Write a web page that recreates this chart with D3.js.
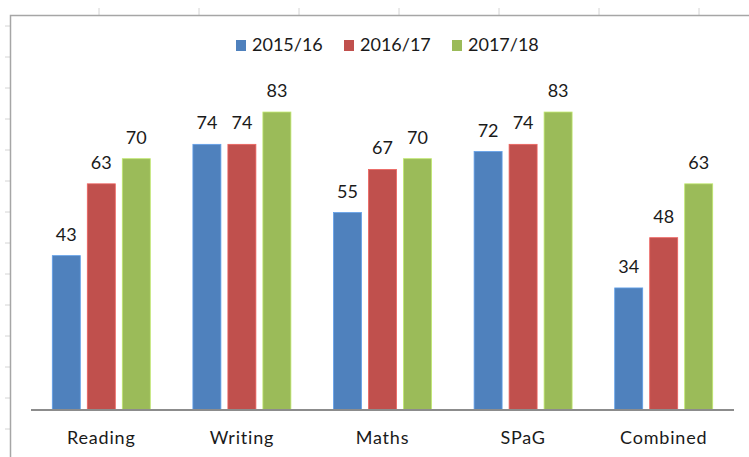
<!DOCTYPE html>
<html>
<head>
<meta charset="utf-8">
<script src="https://cdn.jsdelivr.net/npm/d3@7"></script>
<style>
  body { margin: 0; background: #fff; }
  svg { display: block; font-family: Lato, "Open Sans", sans-serif; }
</style>
</head>
<body>
<div id="chart"></div>
<script>
const categories = ["Reading", "Writing", "Maths", "SPaG", "Combined"]
const seriesNames = ["2015/16", "2016/17", "2017/18"]
const values2015 = [43, 74, 55, 72, 34]
const values2016 = [63, 74, 67, 74, 48]
const values2017 = [70, 83, 70, 83, 63]
const seriesColors = ["#4F81BD", "#C0504D", "#9BBB59"]

const seriesValues = [values2015, values2016, values2017]

const width = 749
const height = 457

const svg = d3.select("#chart")
  .append("svg")
  .attr("width", width)
  .attr("height", height)

// spreadsheet backdrop: column ticks along the top, row ticks down the left
const colTicks = d3.range(1, 8).map(i => 100 * i - 1)
svg.selectAll(".colTick")
  .data(colTicks)
  .enter()
  .append("line")
  .attr("x1", d => d).attr("x2", d => d)
  .attr("y1", 8).attr("y2", 15)
  .attr("stroke", "#d4d4d4")

const rowTicks = d3.range(0, 15).map(i => 26 + 31 * i)
svg.selectAll(".rowTick")
  .data(rowTicks)
  .enter()
  .append("line")
  .attr("x1", 5).attr("x2", 10)
  .attr("y1", d => d).attr("y2", d => d)
  .attr("stroke", "#d4d4d4")

// chart area border
svg.append("path")
  .attr("d", `M10.5,${height} V15.5 H${width}`)
  .attr("fill", "none")
  .attr("stroke", "#a6a6a6")
  .attr("stroke-width", 1.5)

// scales
const x0 = d3.scaleBand()
  .domain(categories)
  .range([31, 734])
  .paddingInner(0.303)
  .paddingOuter(0.1515)

const x1 = d3.scaleBand()
  .domain(seriesNames)
  .range([0, x0.bandwidth()])
  .paddingInner(0.2)

const y = d3.scaleLinear()
  .domain([0, 100])
  .range([410, 51])

// bars
const groups = svg.selectAll(".group")
  .data(categories)
  .enter()
  .append("g")
  .attr("transform", d => `translate(${x0(d)},0)`)

groups.selectAll("rect")
  .data((cat, ci) => seriesNames.map((s, si) => ({ series: s, si: si, value: seriesValues[si][ci] })))
  .enter()
  .append("rect")
  .attr("x", d => x1(d.series))
  .attr("y", d => y(d.value))
  .attr("width", x1.bandwidth())
  .attr("height", d => y(0) - y(d.value))
  .attr("fill", d => seriesColors[d.si])
  .attr("stroke", d => d3.color(seriesColors[d.si]).brighter(0.6))
  .attr("stroke-width", 0.8)

// value labels
groups.selectAll("text")
  .data((cat, ci) => seriesNames.map((s, si) => ({ series: s, value: seriesValues[si][ci] })))
  .enter()
  .append("text")
  .attr("x", d => x1(d.series) + x1.bandwidth() / 2)
  .attr("y", d => y(d.value) - 15)
  .attr("text-anchor", "middle")
  .style("font-size", "18px")
  .style("fill", "#1a1a1a")
  .text(d => d.value)

// baseline axis
svg.append("line")
  .attr("x1", 31).attr("x2", 734)
  .attr("y1", y(0)).attr("y2", y(0))
  .attr("stroke", "#8c8c8c")
  .attr("stroke-width", 2)

// category labels
svg.selectAll(".cat")
  .data(categories)
  .enter()
  .append("text")
  .attr("x", d => x0(d) + x0.bandwidth() / 2)
  .attr("y", 444)
  .attr("text-anchor", "middle")
  .style("font-size", "18px")
  .style("letter-spacing", "0.8px")
  .style("fill", "#1a1a1a")
  .text(d => d)

// legend
const legendX = [236, 344, 452]
const legend = svg.selectAll(".legend")
  .data(seriesNames)
  .enter()
  .append("g")
  .attr("transform", (d, i) => `translate(${legendX[i]},40)`)

legend.append("rect")
  .attr("width", 10)
  .attr("height", 11)
  .attr("fill", (d, i) => seriesColors[i])

legend.append("text")
  .attr("x", 16)
  .attr("y", 11)
  .style("font-size", "18px")
  .style("fill", "#1a1a1a")
  .text(d => d)
</script>
</body>
</html>
